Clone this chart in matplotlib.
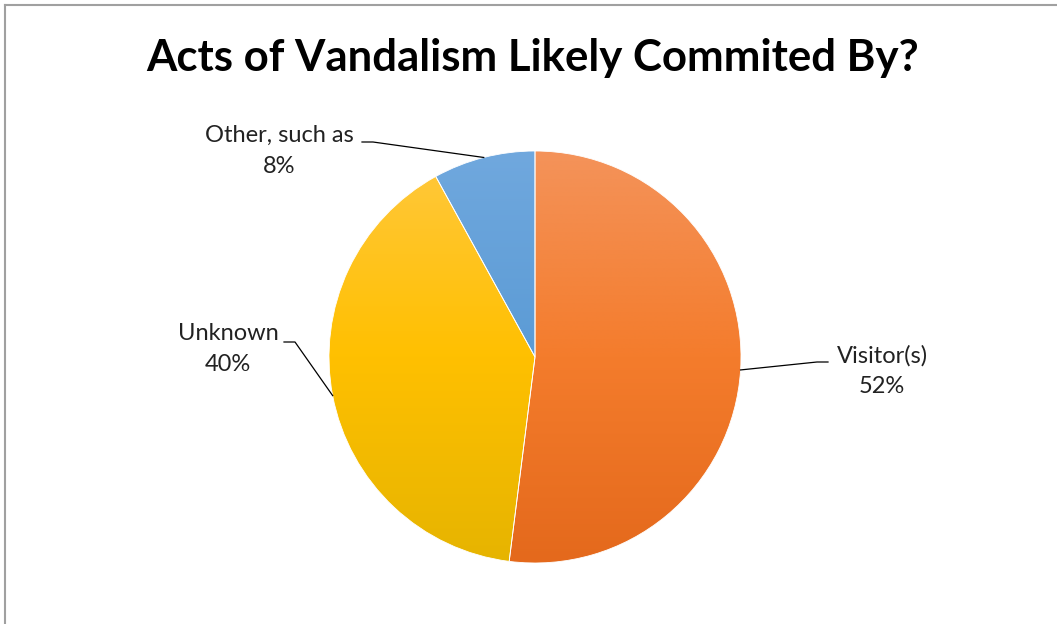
import matplotlib
matplotlib.use("Agg")
import matplotlib.pyplot as plt
import numpy as np
from matplotlib.colors import LinearSegmentedColormap
from matplotlib.lines import Line2D

# Data
categories = ["Visitor(s)", "Unknown", "Other, such as"]
values = [52, 40, 8]
grad_colors = [
    ["#F4935A", "#F47C2C", "#E4691C"],   # orange (top, mid, bottom)
    ["#FFC83E", "#FFC000", "#E6B400"],   # yellow
    ["#70A8DE", "#5B9BD5", "#4A8ACB"],   # blue
]

W, H = 1057, 624
fig = plt.figure(figsize=(W / 100, H / 100), dpi=100)
ax = fig.add_axes([0, 0, 1, 1])
ax.set_xlim(0, W)
ax.set_ylim(0, H)
ax.set_aspect("equal")
ax.axis("off")

cx, cy, r = 535, H - 357, 206
wedges, _ = ax.pie(values, startangle=90, counterclock=False, center=(cx, cy),
                   radius=r, frame=True,
                   wedgeprops=dict(edgecolor="white", linewidth=0.6))
ax.set_xlim(0, W)
ax.set_ylim(0, H)
ax.axis("off")

grad = np.linspace(0, 1, 256).reshape(-1, 1)
for w, cols in zip(wedges, grad_colors):
    cmap = LinearSegmentedColormap.from_list("g", cols[::-1])
    im = ax.imshow(grad, cmap=cmap, extent=(cx - r, cx + r, cy - r, cy + r),
                   origin="lower", aspect="auto", zorder=w.get_zorder() - 0.1,
                   interpolation="bilinear")
    im.set_clip_path(w)
    w.set_facecolor("none")
ax.set_xlim(0, W)
ax.set_ylim(0, H)

font = "Lato"
total = sum(values)
# label layout: text center, elbow point, horizontal end
label_pos = [(882, 371), (228, 349), (279, 151)]
elbows = [(817, 362), (295, 342), (373, 142)]
ends = [(828, 362), (284, 342), (362, 142)]

angle = 90.0
for i, (cat, v) in enumerate(zip(categories, values)):
    span = 360.0 * v / total
    mid = np.deg2rad(angle - span / 2)
    angle -= span
    ax_pt = (cx + r * np.cos(mid), cy + r * np.sin(mid))
    ex, ey = elbows[i]
    nx, ny = ends[i]
    ax.plot([ax_pt[0], ex, nx], [ax_pt[1], H - ey, H - ny], color="black", lw=0.9, zorder=5)
    lx, ly = label_pos[i]
    ax.text(lx, H - ly, f"{cat}\n{round(100 * v / total)}%", ha="center", va="center",
            fontsize=17, family=font, color="#222222", linespacing=1.55)

fig.text(533 / W, 1 - 58 / H, "Acts of Vandalism Likely Commited By?", ha="center", va="center",
         fontsize=31.5, fontweight="bold", family=font, color="black")

# partial border (top and left)
fig.add_artist(Line2D([4.5 / W, 1], [1 - 4.5 / H, 1 - 4.5 / H], transform=fig.transFigure,
                      color="#a0a0a0", lw=1.5))
fig.add_artist(Line2D([4.5 / W, 4.5 / W], [0, 1 - 4.5 / H], transform=fig.transFigure,
                      color="#a0a0a0", lw=1.5))

fig.savefig("out.png", dpi=100, facecolor="white")
